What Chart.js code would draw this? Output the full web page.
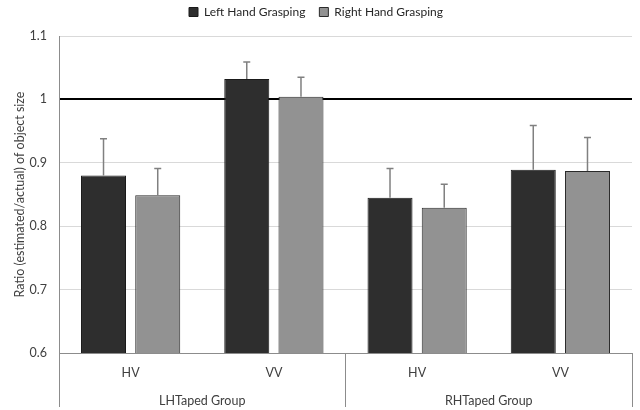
<!DOCTYPE html>
<html>
<head>
<meta charset="utf-8">
<script src="https://cdn.jsdelivr.net/npm/chart.js@4"></script>
<style>
  html, body { margin: 0; padding: 0; background: #fff; }
  #wrap { width: 640px; height: 410px; }
</style>
</head>
<body>
<div id="wrap"><canvas id="Plot"></canvas></div>
<script>
// values
var conditions = ['HV', 'VV', 'HV', 'VV'];
var groups = ['LHTaped Group', 'RHTaped Group'];
var leftHand = [0.880, 1.032, 0.845, 0.889];
var rightHand = [0.849, 1.004, 0.829, 0.887];
var leftErr = [0.058, 0.027, 0.046, 0.070];
var rightErr = [0.042, 0.031, 0.037, 0.053];
var yTicks = [0.6, 0.7, 0.8, 0.9, 1, 1.1];

Chart.defaults.font.family = "Lato, 'Open Sans', sans-serif";
Chart.defaults.color = '#404040';

// upward error bars, drawn from the bar top through the y scale
var errorBars = {
  id: 'errorBars',
  afterDatasetsDraw: function(chart) {
    var c = chart.ctx;
    var ys = chart.scales.y;
    chart.data.datasets.forEach(function(ds, i) {
      var meta = chart.getDatasetMeta(i);
      meta.data.forEach(function(bar, j) {
        var top = ys.getPixelForValue(ds.data[j] + ds.errors[j]);
        c.save();
        c.strokeStyle = '#808080';
        c.lineWidth = 1.5;
        c.beginPath();
        c.moveTo(bar.x, bar.y);
        c.lineTo(bar.x, top);
        c.moveTo(bar.x - 3.5, top);
        c.lineTo(bar.x + 3.5, top);
        c.stroke();
        c.restore();
      });
    });
  }
};

// small tweak of the room under the legend
var legendGap = {
  id: 'legendGap',
  beforeInit: function(chart) {
    var fit = chart.legend.fit;
    chart.legend.fit = function() {
      fit.bind(chart.legend)();
      this.height += 8;
    };
  }
};

var ctx = document.getElementById('Plot').getContext('2d');
var myChart = new Chart(ctx, {
  type: 'bar',
  data: {
    labels: conditions,
    datasets: [{
      label: 'Left Hand Grasping',
      data: leftHand,
      errors: leftErr,
      backgroundColor: '#2e2e2e',
      borderColor: '#1a1a1a',
      borderWidth: 1
    }, {
      label: 'Right Hand Grasping',
      data: rightHand,
      errors: rightErr,
      backgroundColor: '#929292',
      borderColor: '#2a2a2a',
      borderWidth: 1
    }]
  },
  options: {
    responsive: true,
    maintainAspectRatio: false,
    animation: false,
    categoryPercentage: 0.757,
    barPercentage: 0.83,
    layout: { padding: { top: -8, right: 8, bottom: 0, left: 0 } },
    plugins: {
      legend: {
        position: 'top',
        labels: { boxWidth: 9, boxHeight: 9, padding: 14, font: { size: 12 }, color: '#262626' }
      },
      tooltip: { enabled: false }
    },
    scales: {
      x: {
        type: 'category',
        labels: conditions,
        offset: true,
        border: { display: true, color: '#8c8c8c', width: 1 },
        grid: {
          offset: true,
          drawOnChartArea: false,
          tickLength: 54,
          color: function(c) {
            if (c.type !== 'tick' || c.index === 0 || c.index === 2) return '#8c8c8c';
            return 'rgba(0,0,0,0)';
          }
        },
        ticks: { padding: -42, font: { size: 12.5 } },
        afterFit: function(s) { s.height = 24; }
      },
      x2: {
        type: 'category',
        labels: groups,
        position: 'bottom',
        offset: true,
        border: { display: false },
        grid: { display: false, drawTicks: false },
        ticks: { padding: 16, font: { size: 12.5 } },
        afterFit: function(s) { s.height = 33; }
      },
      y: {
        min: 0.6,
        max: 1.1,
        afterBuildTicks: function(s) { s.ticks = yTicks.map(function(v) { return { value: v }; }); },
        border: { display: true, color: '#8c8c8c', width: 1 },
        grid: {
          drawTicks: false,
          color: function(c) { return c.tick && c.tick.value === 1 ? '#000000' : '#d9d9d9'; },
          lineWidth: function(c) { return c.tick && c.tick.value === 1 ? 2 : 1; }
        },
        ticks: {
          padding: 12,
          font: { size: 12.5 },
          callback: function(v) { return String(Math.round(v * 10) / 10); }
        },
        title: {
          display: true,
          text: 'Ratio (estimated/actual) of object size',
          font: { size: 12.5 },
          padding: { top: 12, bottom: 0 }
        },
        afterFit: function(s) { s.width = 59; }
      }
    }
  },
  plugins: [errorBars, legendGap]
});
</script>
</body>
</html>
